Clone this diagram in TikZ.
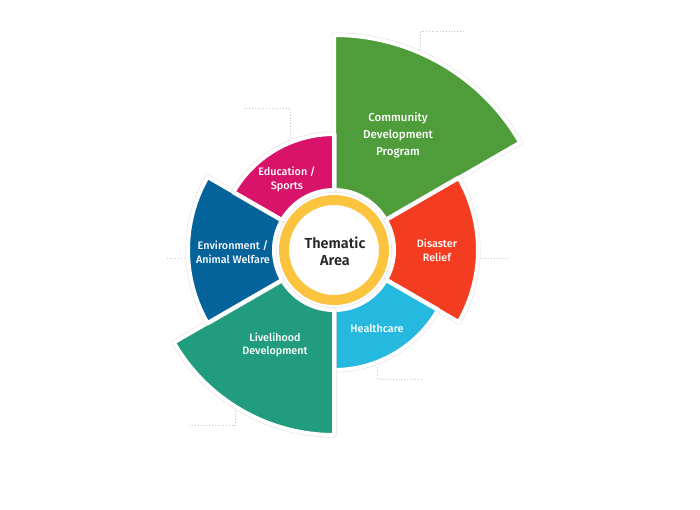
\documentclass[tikz,border=0pt]{standalone}
\usepackage{fontspec}
\setmainfont{Fira Sans}
\newfontfamily\medfont{Fira Sans Medium}
\newfontfamily\semifont{Fira Sans SemiBold}
\definecolor{cgreen}{RGB}{78,157,58}
\definecolor{cred}{RGB}{244,60,32}
\definecolor{ccyan}{RGB}{37,185,224}
\definecolor{cteal}{RGB}{33,156,126}
\definecolor{cblue}{RGB}{4,99,154}
\definecolor{cpink}{RGB}{217,19,106}
\definecolor{cyellow}{RGB}{251,195,62}
\definecolor{cdot}{RGB}{200,200,200}
\tikzset{
  sectortext/.style={text=white,align=center,font=\medfont\fontsize{10.8}{13.5}\selectfont},
  leader/.style={cdot,line width=0.8pt,dotted},
}
\newcommand{\mysector}[4]{%
  \draw[gray!25,line width=5pt,line join=round] (-#2:60) arc[start angle=-#2,end angle=-#3,radius=60] -- (-#3:#4) arc[start angle=-#3,end angle=-#2,radius=#4] -- cycle;
  \filldraw[fill=#1,draw=white,line width=4pt,line join=round] (-#2:60) arc[start angle=-#2,end angle=-#3,radius=60] -- (-#3:#4) arc[start angle=-#3,end angle=-#2,radius=#4] -- cycle;
}
\begin{document}
\begin{tikzpicture}[x=1pt,y=-1pt]
\useasboundingbox[fill=white] (0,0) rectangle (700,509);
% leader lines
\draw[leader] (420,50) -- (420,31) -- (465,31);
\draw[leader] (290,138) -- (290,108) -- (243,108);
\draw[leader] (190,258) -- (166,258);
\draw[leader] (477,258) -- (510,258);
\draw[leader] (377,367) -- (377,379) -- (422,379);
\draw[leader] (235,408) -- (235,425) -- (190,425);
\begin{scope}[shift={(334,250)}]
\mysector{cgreen}{30}{90}{215}
\mysector{cred}{-30}{30}{144}
\mysector{ccyan}{-90}{-30}{120}
\mysector{cteal}{210}{270}{185}
\mysector{cblue}{150}{210}{146}
\mysector{cpink}{90}{150}{116}
\draw[cyellow,line width=10pt,fill=white] (0,0) circle[radius=50];
\end{scope}
\node[sectortext,font=\medfont\fontsize{11.5}{17}\selectfont] (cdp) at (398,135) {Community\\Development\\Program};
\node[sectortext] (edu) at (287,179.5) {Education /\\Sports};
\node[sectortext] (env) at (233,252) {Environment /\\Animal Welfare};
\node[sectortext] (dis) at (437,250.5) {Disaster\\Relief};
\node[sectortext] (hc) at (377,328) {Healthcare};
\node[sectortext] (liv) at (275,345) {Livelihood\\Development};
\node[align=center,font=\semifont\fontsize{14.5}{17}\selectfont,text=black!85] (ta) at (335,251.5) {Thematic\\Area};
\end{tikzpicture}
\end{document}
